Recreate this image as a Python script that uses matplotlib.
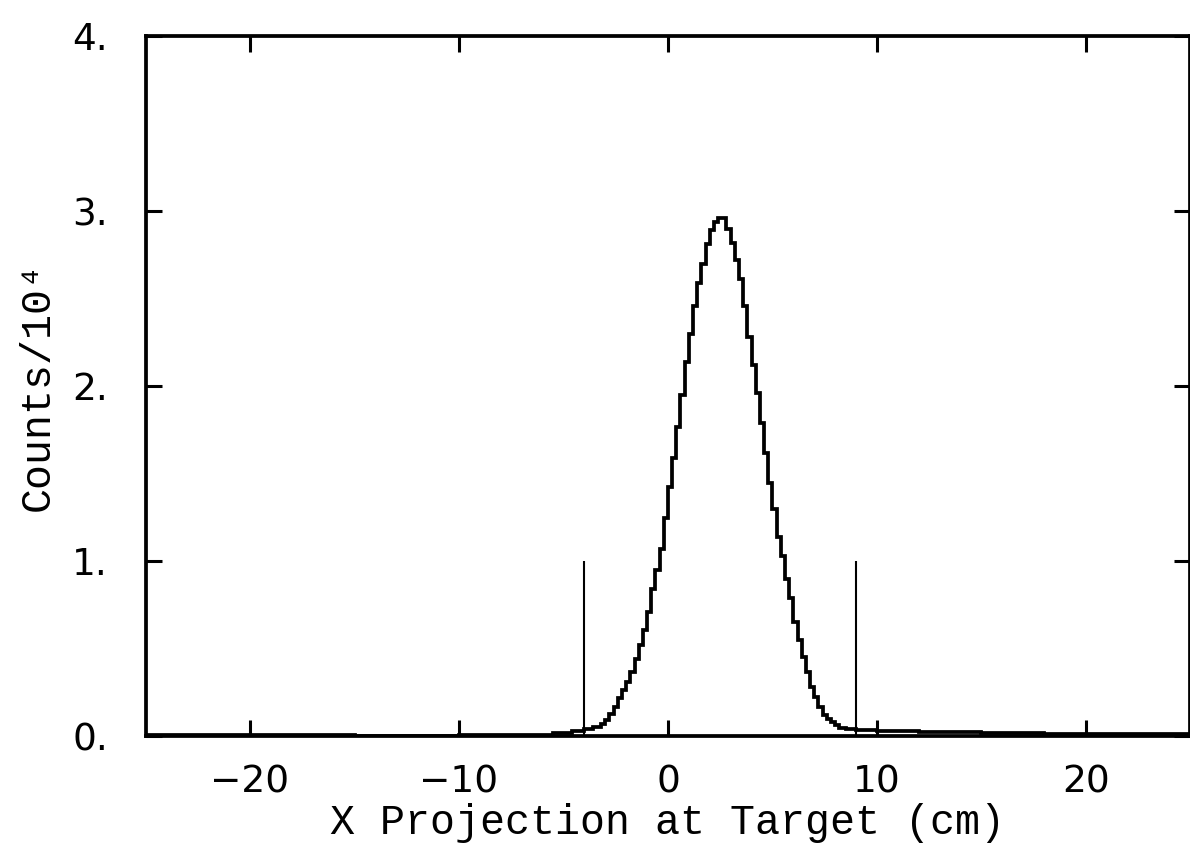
"""X projection at target: histogram of counts with acceptance cut lines."""

import matplotlib
matplotlib.use("Agg")
import matplotlib.pyplot as plt
import numpy as np

# left tail (variable-width bins), counts / 1e4
left_tail_edges = [-25.0, -20.0, -15.0, -10.0, -7.0, -5.5, -4.6, -4.0, -3.6, -3.2]
left_tail_counts = [0.010, 0.006, 0.004, 0.006, 0.010, 0.018, 0.030, 0.042, 0.055]

# core of the peak, 0.2 cm bins starting at -3.2 cm
core_start = -3.2
core_width = 0.2
core_counts = [
    0.070, 0.094, 0.130, 0.170, 0.220, 0.265, 0.310, 0.370, 0.440, 0.520,
    0.610, 0.710, 0.840, 0.950, 1.070, 1.245, 1.425, 1.590, 1.770, 1.950,
    2.140, 2.300, 2.460, 2.590, 2.700, 2.810, 2.890, 2.940, 2.960, 2.960,
    2.900, 2.820, 2.720, 2.610, 2.460, 2.280, 2.120, 1.960, 1.790, 1.620,
    1.450, 1.300, 1.140, 1.030, 0.900, 0.790, 0.655, 0.550, 0.455, 0.370,
    0.280, 0.227, 0.170, 0.120,
]

# right tail (variable-width bins)
right_tail_edges = [7.6, 7.8, 8.0, 8.2, 8.5, 9.0, 10.0, 12.0, 15.0, 18.0, 21.0, 25.0]
right_tail_counts = [0.100, 0.080, 0.065, 0.050, 0.040, 0.035, 0.032, 0.028, 0.022, 0.017, 0.012]

# acceptance cut positions (cm) and marker height
cut_positions = [-4.0, 9.0]
cut_height = 1.0

x_ticks = [-20, -10, 0, 10, 20]
y_ticks = [0, 1, 2, 3, 4]
y_tick_labels = ["0.", "1.", "2.", "3.", "4."]


def main():
    core_edges = core_start + core_width * np.arange(len(core_counts) + 1)
    edges = np.concatenate([left_tail_edges[:-1], core_edges[:-1], right_tail_edges])
    counts = np.concatenate([left_tail_counts, core_counts, right_tail_counts])

    fig = plt.figure(figsize=(11.9, 8.55), dpi=100)
    ax = fig.add_axes([0.1223, 0.1386, 0.878, 0.8193])

    ax.stairs(counts, edges, color="black", linewidth=2.7)
    ax.vlines(cut_positions, 0, cut_height, color="black", linewidth=1.5)

    ax.set_xlim(-25, 25)
    ax.set_ylim(0, 4)
    ax.set_xticks(x_ticks)
    ax.set_yticks(y_ticks, labels=y_tick_labels)

    for spine in ax.spines.values():
        spine.set_linewidth(2.7)
    ax.tick_params(direction="in", top=True, right=True, length=11.5, width=2.2,
                   labelsize=27)
    ax.tick_params(axis="x", pad=20)
    ax.tick_params(axis="y", pad=27)
    for lbl in ax.get_xticklabels() + ax.get_yticklabels():
        lbl.set_family("DejaVu Sans")

    mono = ["Liberation Mono", "DejaVu Sans Mono"]
    ax.set_xlabel("X Projection at Target (cm)", fontsize=30, family=mono)
    ax.set_ylabel("Counts/10\u2074", fontsize=30, family=mono)
    ax.xaxis.label.set_va("center")
    ax.yaxis.label.set_va("center")
    ax.xaxis.set_label_coords(0.5, -0.124)
    ax.yaxis.set_label_coords(-0.103, 0.5)

    fig.savefig("out.png", dpi=100)
    plt.close(fig)


if __name__ == "__main__":
    main()
